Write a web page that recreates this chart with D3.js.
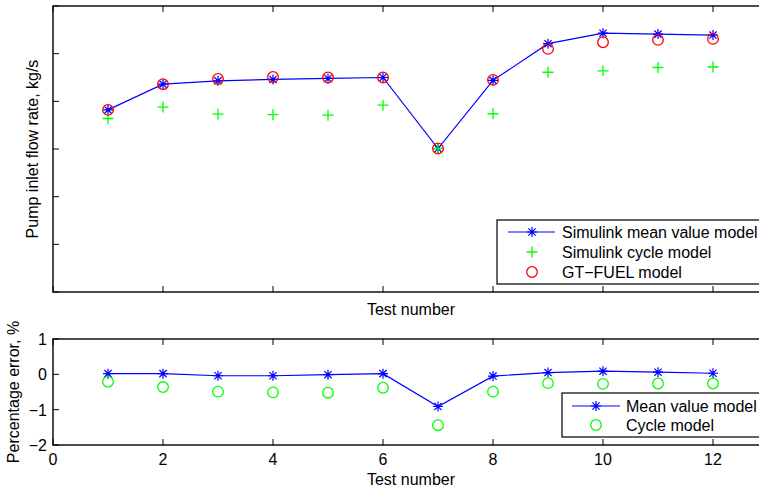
<!DOCTYPE html>
<html lang="en">
<head>
    <meta charset="UTF-8">
    <title>Pump inlet flow rate</title>
    <script src="https://d3js.org/d3.v7.min.js"></script>
    <style>
        body { margin: 0; background: #fff; }
        svg { display: block; font-family: "Liberation Sans", Arial, sans-serif; }
        .axis-label { font-size: 16px; fill: #000; }
        .tick-label { font-size: 16px; fill: #000; }
        .legend text { font-size: 16px; fill: #000; }
    </style>
</head>
<body>
<div id="chart"></div>

<script>
    // Test numbers
    const tests = [1, 2, 3, 4, 5, 6, 7, 8, 9, 10, 11, 12];

    // Top plot: pump inlet flow rate (axis has no labels, arbitrary units)
    const meanValue = [3.82, 4.36, 4.43, 4.46, 4.48, 4.50, 3.01, 4.44, 5.21, 5.43, 5.41, 5.39];
    const cycleModel = [3.64, 3.88, 3.73, 3.72, 3.71, 3.92, 3.01, 3.74, 4.61, 4.64, 4.71, 4.72];
    const gtFuel = [3.82, 4.36, 4.47, 4.51, 4.50, 4.50, 3.01, 4.45, 5.10, 5.24, 5.29, 5.31];

    // Bottom plot: percentage error
    const meanError = [0.02, 0.02, -0.04, -0.04, -0.01, 0.02, -0.91, -0.05, 0.05, 0.09, 0.06, 0.03];
    const cycleError = [-0.21, -0.36, -0.49, -0.51, -0.52, -0.38, -1.44, -0.49, -0.25, -0.27, -0.26, -0.26];

    const xTicks = [0, 2, 4, 6, 8, 10, 12];
    const topYTicks = [0, 1, 2, 3, 4, 5, 6];
    const bottomYTicks = [-2, -1, 0, 1];

    const width = 759, height = 488;
    const svg = d3.select("#chart").append("svg")
        .attr("width", width)
        .attr("height", height);

    const x = d3.scaleLinear().domain([0, 13]).range([53, 768]);
    const yTop = d3.scaleLinear().domain([0, 6]).range([292, 6]);
    const yBot = d3.scaleLinear().domain([-2, 1]).range([445, 339]);

    const tickLen = 6;

    // star marker like matlab '*'
    function star(g, cx, cy, s, color) {
        const d = s * 0.72;
        g.append("path")
            .attr("d", `M${cx - s},${cy}H${cx + s}M${cx},${cy - s}V${cy + s}` +
                `M${cx - d},${cy - d}L${cx + d},${cy + d}M${cx - d},${cy + d}L${cx + d},${cy - d}`)
            .attr("stroke", color).attr("stroke-width", 1.2).attr("fill", "none");
    }
    function plus(g, cx, cy, s, color) {
        g.append("path")
            .attr("d", `M${cx - s},${cy}H${cx + s}M${cx},${cy - s}V${cy + s}`)
            .attr("stroke", color).attr("stroke-width", 1.3).attr("fill", "none");
    }
    function ring(g, cx, cy, r, color) {
        g.append("circle")
            .attr("cx", cx).attr("cy", cy).attr("r", r)
            .attr("stroke", color).attr("stroke-width", 1.3).attr("fill", "none");
    }

    function frame(y, yTicks, labels) {
        const g = svg.append("g");
        const [x0, x1] = x.range();
        const [yb, yt] = y.range();
        g.append("rect")
            .attr("x", x0).attr("y", yt)
            .attr("width", x1 - x0).attr("height", yb - yt)
            .attr("fill", "none").attr("stroke", "#000").attr("stroke-width", 1.4);
        xTicks.forEach(t => {
            g.append("line").attr("x1", x(t)).attr("x2", x(t)).attr("y1", yb).attr("y2", yb - tickLen).attr("stroke", "#000");
            g.append("line").attr("x1", x(t)).attr("x2", x(t)).attr("y1", yt).attr("y2", yt + tickLen).attr("stroke", "#000");
            if (labels) {
                g.append("text").attr("class", "tick-label")
                    .attr("x", x(t)).attr("y", yb + 20)
                    .attr("text-anchor", "middle").text(t);
            }
        });
        yTicks.forEach(t => {
            g.append("line").attr("x1", x0).attr("x2", x0 + tickLen).attr("y1", y(t)).attr("y2", y(t)).attr("stroke", "#000");
            g.append("line").attr("x1", x1).attr("x2", x1 - tickLen).attr("y1", y(t)).attr("y2", y(t)).attr("stroke", "#000");
            if (labels) {
                g.append("text").attr("class", "tick-label")
                    .attr("x", x0 - 6).attr("y", y(t) + 6)
                    .attr("text-anchor", "end").text(t < 0 ? "\u2212" + Math.abs(t) : t);
            }
        });
        return g;
    }

    // ---- top plot ----
    const gTop = frame(yTop, topYTicks, false);
    const line = d3.line().x((d, i) => x(tests[i]));

    gTop.append("path")
        .datum(meanValue)
        .attr("d", line.y(d => yTop(d)))
        .attr("fill", "none").attr("stroke", "#0000ff").attr("stroke-width", 1.2);
    meanValue.forEach((v, i) => star(gTop, x(tests[i]), yTop(v), 5, "#0000ff"));
    cycleModel.forEach((v, i) => plus(gTop, x(tests[i]), yTop(v), 5.5, "#00ff00"));
    gtFuel.forEach((v, i) => ring(gTop, x(tests[i]), yTop(v), 5.3, "#ff0000"));

    svg.append("text").attr("class", "axis-label")
        .attr("transform", "translate(38,149) rotate(-90)")
        .attr("text-anchor", "middle").text("Pump inlet flow rate, kg/s");
    svg.append("text").attr("class", "axis-label")
        .attr("x", 411).attr("y", 315)
        .attr("text-anchor", "middle").text("Test number");

    // top legend
    const lgTop = svg.append("g").attr("class", "legend");
    lgTop.append("rect").attr("x", 497).attr("y", 220).attr("width", 300).attr("height", 64)
        .attr("fill", "#fff").attr("stroke", "#000").attr("stroke-width", 1.2);
    lgTop.append("line").attr("x1", 508).attr("x2", 555).attr("y1", 232).attr("y2", 232)
        .attr("stroke", "#0000ff").attr("stroke-width", 1.2);
    star(lgTop, 532, 232, 5, "#0000ff");
    plus(lgTop, 532, 252, 5.5, "#00ff00");
    ring(lgTop, 532, 272, 5.3, "#ff0000");
    const topNames = ["Simulink mean value model", "Simulink cycle model", "GT\u2212FUEL model"];
    topNames.forEach((n, i) => lgTop.append("text").attr("x", 562).attr("y", 238 + i * 20).text(n));

    // ---- bottom plot ----
    const gBot = frame(yBot, bottomYTicks, true);
    gBot.append("path")
        .datum(meanError)
        .attr("d", line.y(d => yBot(d)))
        .attr("fill", "none").attr("stroke", "#0000ff").attr("stroke-width", 1.2);
    meanError.forEach((v, i) => star(gBot, x(tests[i]), yBot(v), 5, "#0000ff"));
    cycleError.forEach((v, i) => ring(gBot, x(tests[i]), yBot(v), 5.3, "#00ff00"));

    svg.append("text").attr("class", "axis-label")
        .attr("transform", "translate(19,392) rotate(-90)")
        .attr("text-anchor", "middle").text("Percentage error, %");
    svg.append("text").attr("class", "axis-label")
        .attr("x", 411).attr("y", 485)
        .attr("text-anchor", "middle").text("Test number");

    // bottom legend
    const lgBot = svg.append("g").attr("class", "legend");
    lgBot.append("rect").attr("x", 562).attr("y", 393).attr("width", 250).attr("height", 44)
        .attr("fill", "#fff").attr("stroke", "#000").attr("stroke-width", 1.2);
    lgBot.append("line").attr("x1", 572).attr("x2", 620).attr("y1", 406).attr("y2", 406)
        .attr("stroke", "#0000ff").attr("stroke-width", 1.2);
    star(lgBot, 596, 406, 5, "#0000ff");
    ring(lgBot, 596, 425, 5.3, "#00ff00");
    ["Mean value model", "Cycle model"].forEach((n, i) =>
        lgBot.append("text").attr("x", 626).attr("y", 411.5 + i * 19.5).text(n));
</script>
</body>
</html>
